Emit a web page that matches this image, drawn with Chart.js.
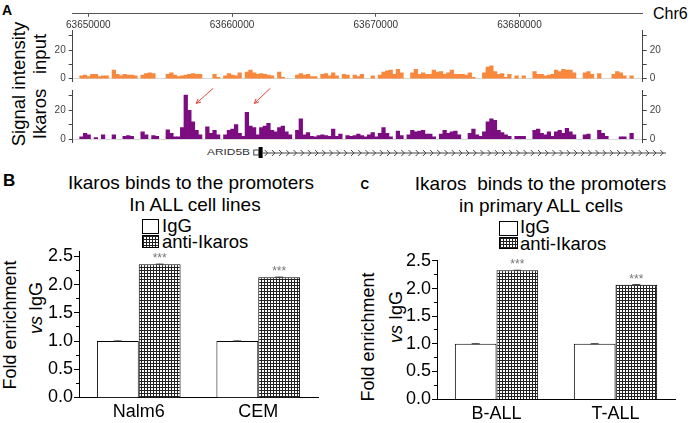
<!DOCTYPE html>
<html>
<head>
<meta charset="UTF-8">
<title>Ikaros ChIP</title>
<script src="https://cdn.jsdelivr.net/npm/chart.js"></script>
<style>
  body { margin:0; background:#fff; font-family:Arial,"Liberation Sans",sans-serif; color:#000 }
  #fig { position:relative; width:695px; height:423px; overflow:hidden; background:#fff }
  canvas { position:absolute }
  .t { position:absolute; white-space:pre; line-height:1 }
  .c { transform:translateX(-50%) }
  .rot { transform:translate(-50%,-50%) rotate(-90deg) }
  .box { position:absolute; box-sizing:border-box; border:1px solid #000; background:#fff }
  .hatch { background-color:#fff;
    background-image:linear-gradient(#222 1px,transparent 1px),linear-gradient(90deg,#222 1px,transparent 1px);
    background-size:3px 3px }
</style>
</head>
<body>
<div id="fig">
  <!-- panel A -->
  <div class="t" style="left:2px;top:3px;font-size:14px;font-weight:bold">A</div>
  <div class="t" style="left:653px;top:6px;font-size:16px">Chr6</div>
  <div class="t rot" style="left:19px;top:84px;font-size:18.5px">Signal intensity</div>
  <div class="t rot" style="left:40px;top:54px;font-size:18.5px">input</div>
  <div class="t rot" style="left:40px;top:114px;font-size:18.5px">Ikaros</div>
  <div class="t" style="left:207px;top:148px;font-size:8.5px;color:#333;transform:scaleX(1.4);transform-origin:left">ARID5B</div>
  <canvas id="ruler" width="695" height="32" style="left:0;top:0"></canvas>
  <canvas id="trkInput" width="695" height="62" style="left:0;top:24px"></canvas>
  <canvas id="trkIkaros" width="695" height="80" style="left:0;top:84px"></canvas>

  <!-- panel B -->
  <div class="t" style="left:3px;top:172px;font-size:17px;font-weight:bold">B</div>
  <div class="t c" style="left:191px;top:172.5px;font-size:19px">Ikaros binds to the promoters</div>
  <div class="t c" style="left:195px;top:194.5px;font-size:19px">In ALL cell lines</div>
  <div class="box" style="left:142px;top:219px;width:17px;height:15px"></div>
  <div class="box hatch" style="left:142px;top:235px;width:17px;height:13px"></div>
  <div class="t" style="left:162px;top:216.5px;font-size:18.5px">IgG</div>
  <div class="t" style="left:162px;top:233px;font-size:18.5px">anti-Ikaros</div>
  <div class="t rot" style="left:10px;top:325px;font-size:18px">Fold enrichment</div>
  <div class="t rot" style="left:36px;top:308px;font-size:18px"><i>vs</i> IgG</div>
  <canvas id="barB" width="340" height="183" style="left:0;top:240px"></canvas>

  <!-- panel C -->
  <div class="t" style="left:360.5px;top:179px;font-size:12px;font-weight:bold">C</div>
  <div class="t c" style="left:540.5px;top:174px;font-size:19px">Ikaros  binds to the promoters</div>
  <div class="t c" style="left:541px;top:195.5px;font-size:19px">in primary ALL cells</div>
  <div class="box" style="left:499px;top:220.5px;width:19px;height:15px"></div>
  <div class="box hatch" style="left:499px;top:236.5px;width:19px;height:12px"></div>
  <div class="t" style="left:520px;top:218px;font-size:18.5px">IgG</div>
  <div class="t" style="left:520px;top:234.5px;font-size:18.5px">anti-Ikaros</div>
  <div class="t rot" style="left:368px;top:337px;font-size:18px">Fold enrichment</div>
  <div class="t rot" style="left:396px;top:317px;font-size:18px"><i>vs</i> IgG</div>
  <canvas id="barC" width="355" height="183" style="left:340px;top:240px"></canvas>
</div>

<script>
// ---- panel A data (signal per 250 bp bin) ----
const binStart = 63649400;
const binSize = 250;
const xMin = 63648914, xMax = 63688545;
const rulerTicks = [63650000, 63660000, 63670000, 63680000];
const trackTicks = [0, 10, 20, 30];
const trackLabels = [0, 20];

const inputSignal = [
  2,2.5,1.5,3,3,1.5,2,2,0,6, 3,2,3,2.5,2.5,2,0,2.5,3.5,4,
  3.5,0,0,0,3,4,2.5,1.5,2,2.5, 3,3.5,3,3,0,0,0,3,1,0,
  2,3.5,2.5,2,4,0,4.5,6,4,3, 3.5,3,2.5,2,0,4.5,1,0,0,0,
  2.5,3.5,2.5,3,1.5,1.5,0,3,3.5,2, 4,2,0,3,2.5,0,2.5,1.5,3,0,
  0,2,0,2.5,4.5,5.5,6,3,6.5,4, 0,0,4,6.5,3,4,3,3,6,4.5,
  5,3,4,6,3,3,3,2.5,4,1, 0,0,4,8,9,5,3,3.5,1,3,
  0,2,0,2,0,0,5,3,3,2, 2.5,3,6,5,6.5,6,6,4,0,0,
  4,5,3,0,3.5,0,0,0,3,5, 4,2,0,2
];
const ikarosSignal = [
  1.5,4,3,0,1,0,3,0,0,3, 0,0,2,2.5,2,0,0,5,3,0,
  2.5,2,0,0,6.5,4,1.5,1.5,8,30.5, 20,12,6,3,0,8.5,4,6,3,0,
  3,6,7,10,4,2,18.5,9,8,3, 8,9,11,6,5,8,9,5,3,0,
  6,14,3,4.5,2,1.5,2.5,3,2.5,2, 7,2,3.5,0,2.5,2,2.5,3.5,2.5,1.5,
  3,4.5,1.5,4,8,4,1.5,0,5.5,2.5, 0,3,6,5,5.5,6,3.5,3.5,1.5,0,
  3.5,6,4,5,5.5,3,0,0,4,7, 3,2,5,12,14,13,6,4.5,3,2,
  0,2,2,2,0,0,6,7,4,3, 5,2,5,6,4,7.5,5,3,0,0,
  3,3.5,0,0,6,4,2,0,0,0, 1.5,1.5,0,4
];
const peakArrows = [
  { from: [63658684, 35.2], to: [63657500, 24.7] },
  { from: [63662654, 35.2], to: [63661539, 24.7] }
];
const gene = { start: 63661470, exonStart: 63661839, exonEnd: 63662118, end: 63690161, chevron: 500 };

// ---- panels B and C data ----
const groupsB = ["Nalm6", "CEM"];
const iggB = [1.0, 1.0];
const antiB = [2.36, 2.13];
const iggErrB = [0.01, 0.01];
const antiErrB = [0.01, 0.01];
const starsB = ["***", "***"];

const groupsC = ["B-ALL", "T-ALL"];
const iggC = [1.0, 1.0];
const antiC = [2.33, 2.07];
const iggErrC = [0.01, 0.01];
const antiErrC = [0.01, 0.01];
const starsC = ["***", "***"];

const majorTicks = [0, 0.5, 1.0, 1.5, 2.0, 2.5];
const minorTicks = [0.25, 0.75, 1.25, 1.75, 2.25];

const FONT = 'Arial, "Liberation Sans", sans-serif';
Chart.defaults.font.family = FONT;

// ruler
new Chart(document.getElementById("ruler"), {
  type: "line",
  data: { datasets: [] },
  options: {
    responsive: false, animation: false, events: [],
    layout: { padding: { left: 72.7, right: 52.7, top: 0, bottom: 0 } },
    plugins: { legend: { display: false }, tooltip: { enabled: false } },
    scales: {
      x: {
        type: "linear", min: xMin, max: xMax, position: "bottom",
        afterFit: s => { s.height = 18.7; },
        afterBuildTicks: s => { s.ticks = rulerTicks.map(v => ({ value: v })); },
        ticks: { callback: v => String(v), font: { size: 10 }, color: "#333", padding: 2, maxRotation: 0 },
        grid: { drawOnChartArea: false, tickLength: 3.5, tickColor: "#555" },
        border: { color: "#555" }
      },
      y: { display: false }
    }
  }
});

const genePlugin = {
  id: "geneModel",
  afterDraw(chart) {
    const { ctx, chartArea } = chart;
    const x = chart.scales.x, y = chart.scales.y;
    ctx.save();
    // red arrows
    ctx.strokeStyle = "#e8453c"; ctx.lineWidth = 1;
    peakArrows.forEach(a => {
      const x0 = x.getPixelForValue(a.from[0]), y0 = y.getPixelForValue(a.from[1]);
      const x1 = x.getPixelForValue(a.to[0]), y1 = y.getPixelForValue(a.to[1]);
      const ang = Math.atan2(y1 - y0, x1 - x0);
      ctx.beginPath(); ctx.moveTo(x0, y0); ctx.lineTo(x1, y1);
      [0.45, -0.45].forEach(d => {
        ctx.moveTo(x1, y1);
        ctx.lineTo(x1 - 5 * Math.cos(ang + d), y1 - 5 * Math.sin(ang + d));
      });
      ctx.stroke();
    });
    // gene model
    const gy = chartArea.bottom + 10.5;
    const gs = x.getPixelForValue(gene.start), es = x.getPixelForValue(gene.exonStart);
    const ee = x.getPixelForValue(gene.exonEnd), ge = x.getPixelForValue(gene.end);
    ctx.strokeStyle = "#444"; ctx.fillStyle = "#000";
    ctx.strokeRect(gs + 0.5, gy - 2.5, es - gs, 5);
    ctx.fillRect(es, gy - 5.5, ee - es, 11);
    ctx.beginPath(); ctx.moveTo(ee, gy + 0.5); ctx.lineTo(ge, gy + 0.5); ctx.stroke();
    ctx.beginPath();
    for (let p = gene.exonEnd + gene.chevron / 2; p < gene.end; p += gene.chevron) {
      const px = x.getPixelForValue(p);
      ctx.moveTo(px - 1.5, gy - 2.5); ctx.lineTo(px + 1.5, gy + 0.5); ctx.lineTo(px - 1.5, gy + 3.5);
    }
    ctx.stroke();
    ctx.restore();
  }
};

function trackChart(id, values, color, padTop, padBottom, plugins) {
  const yAxis = (pos, width) => ({
    position: pos, min: -2, max: 34,
    afterFit: s => { s.width = width; s.paddingTop = 0; s.paddingBottom = 0; },
    afterBuildTicks: s => { s.ticks = trackTicks.map(v => ({ value: v })); },
    ticks: { callback: v => trackLabels.includes(v) ? String(v) : "", font: { size: 10 }, color: "#444", padding: 3 },
    grid: {
      drawOnChartArea: pos === "left",
      color: c => (c.tick && c.tick.value === 0) ? "#d9d9d9" : "rgba(0,0,0,0)",
      tickColor: "#444", tickLength: 4
    },
    border: { color: "#444" }
  });
  return new Chart(document.getElementById(id), {
    type: "bar",
    data: {
      datasets: [{
        data: values.map((v, i) => ({ x: binStart + binSize * (i + 0.5), y: v > 0 ? v : null })),
        backgroundColor: color, borderWidth: 0, barPercentage: 1, categoryPercentage: 1
      }]
    },
    options: {
      responsive: false, animation: false, events: [],
      layout: { padding: { left: 0, right: 0, top: padTop, bottom: padBottom } },
      plugins: { legend: { display: false }, tooltip: { enabled: false } },
      scales: {
        x: { type: "linear", min: xMin, max: xMax, display: false, afterBuildTicks: s => { s.ticks = []; } },
        y: yAxis("left", 72.7),
        y2: yAxis("right", 52.3)
      }
    },
    plugins: plugins || []
  });
}
trackChart("trkInput", inputSignal, "#f7883e", 6, 4.5);
trackChart("trkIkaros", ikarosSignal, "#7c0d80", 6, 22, [genePlugin]);

// bar panels
const barMarks = {
  id: "barMarks",
  afterDatasetsDraw(chart) {
    const { ctx } = chart;
    const y = chart.scales.y;
    ctx.save();
    chart.data.datasets.forEach((ds, di) => {
      chart.getDatasetMeta(di).data.forEach((bar, i) => {
        const top = y.getPixelForValue(ds.data[i] + ds.err[i]);
        ctx.strokeStyle = "#333"; ctx.lineWidth = 1;
        ctx.beginPath();
        ctx.moveTo(bar.x, bar.y); ctx.lineTo(bar.x, top);
        ctx.moveTo(bar.x - 4, top + 0.5); ctx.lineTo(bar.x + 4, top + 0.5);
        ctx.stroke();
        if (ds.stars) {
          ctx.fillStyle = "#777"; ctx.font = "12px " + FONT;
          ctx.textAlign = "center"; ctx.textBaseline = "alphabetic";
          ctx.fillText(ds.stars[i], bar.x, bar.y - 2);
        }
      });
    });
    ctx.restore();
  }
};

function hatchPattern(canvas) {
  const tile = document.createElement("canvas");
  tile.width = 3; tile.height = 3;
  const g = tile.getContext("2d");
  g.fillStyle = "#fff"; g.fillRect(0, 0, 3, 3);
  g.fillStyle = "#222"; g.fillRect(0, 0, 3, 1); g.fillRect(0, 0, 1, 3);
  return canvas.getContext("2d").createPattern(tile, "repeat");
}

function barChart(id, groups, igg, anti, iggErr, antiErr, stars, max, geo) {
  const cv = document.getElementById(id);
  return new Chart(cv, {
    type: "bar",
    data: {
      labels: groups,
      datasets: [
        { label: "IgG", data: igg, err: iggErr, backgroundColor: "#fff", borderColor: "#000", borderWidth: 1 },
        { label: "anti-Ikaros", data: anti, err: antiErr, stars: stars, backgroundColor: hatchPattern(cv), borderColor: "#000", borderWidth: 1 }
      ]
    },
    options: {
      responsive: false, animation: false, events: [],
      layout: { padding: { left: 0, right: geo.right, top: geo.top, bottom: 0 } },
      datasets: { bar: { categoryPercentage: 0.7, barPercentage: 1 } },
      plugins: { legend: { display: false }, tooltip: { enabled: false } },
      scales: {
        yMinor: {
          position: "left", min: 0, max: max,
          afterFit: s => { s.width = 0; },
          afterBuildTicks: s => { s.ticks = minorTicks.map(v => ({ value: v })); },
          ticks: { display: false },
          grid: { drawOnChartArea: false, tickLength: 3, tickColor: "#000" },
          border: { display: false }
        },
        y: {
          position: "left", min: 0, max: max,
          afterFit: s => { s.width = geo.left; },
          afterBuildTicks: s => { s.ticks = majorTicks.map(v => ({ value: v })); },
          ticks: { callback: v => v.toFixed(1), font: { size: 18 }, color: "#000", padding: 1 },
          grid: { drawOnChartArea: false, tickLength: 5, tickColor: "#000" },
          border: { color: "#000" }
        },
        x: {
          afterFit: s => { s.height = geo.bottom; },
          ticks: { font: { size: 18 }, color: "#000", padding: 4 },
          grid: { drawOnChartArea: false, drawTicks: false },
          border: { color: "#000" }
        }
      }
    },
    plugins: [barMarks]
  });
}
barChart("barB", groupsB, iggB, antiB, iggErrB, antiErrB, starsB, 2.58, { left: 79, right: 22, top: 11.5, bottom: 25.5 });
barChart("barC", groupsC, iggC, antiC, iggErrC, antiErrC, starsC, 2.51, { left: 97, right: 20, top: 20.4, bottom: 24 });
</script>
</body>
</html>
